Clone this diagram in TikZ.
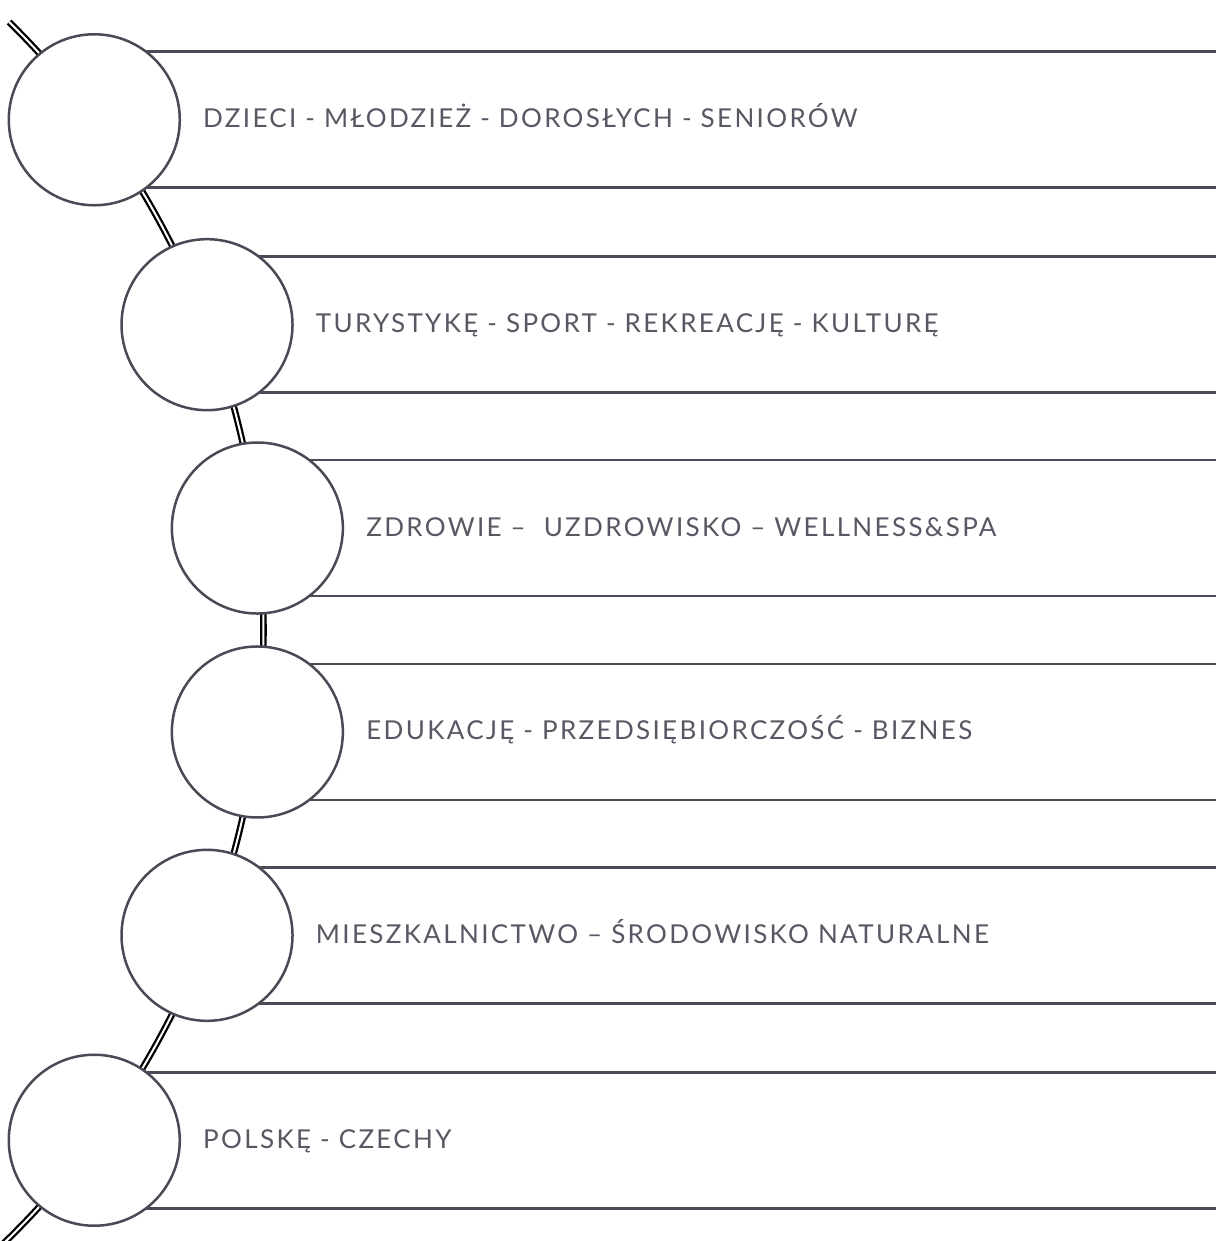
\documentclass[tikz,border=0pt]{standalone}
\usepackage{fontspec}
\setmainfont{Lato}
\usetikzlibrary{calc}
\definecolor{slate}{HTML}{4A4955}
\definecolor{ink}{HTML}{585763}
\tikzset{
    ring/.style={circle,draw=slate,line width=2.5pt,fill=white,minimum size=171pt,inner sep=0pt},
    band/.style={draw=slate,line width=2.8pt},
    rope/.style={draw=black,line width=2.3pt,double=white,double distance=2pt},
    caption/.style={text=ink,font=\fontsize{26}{30}\selectfont\addfontfeatures{LetterSpace=9},inner sep=0pt,anchor=base west}
}
\begin{document}
\begin{tikzpicture}[x=1pt,y=-1pt]
        \useasboundingbox(0,0)rectangle(1216,1241);
        \coordinate(hub)at(-590.5,630);
        \coordinate(edge)at(1216,0);
        \coordinate(ropetop)at($(hub)+(-45.4:854)$);
        \draw[rope](ropetop)arc[start angle=-45.4,end angle=46.3,radius=854];
        \foreach \n/\a/\txt in {1/-36.69/{DZIECI - MŁODZIEŻ - DOROSŁYCH - SENIORÓW},2/-20.95/{TURYSTYKĘ - SPORT - REKREACJĘ - KULTURĘ},3/-6.86/{ZDROWIE –~ UZDROWISKO – WELLNESS\&SPA},4/6.86/{EDUKACJĘ - PRZEDSIĘBIORCZOŚĆ - BIZNES},5/20.95/{MIESZKALNICTWO – ŚRODOWISKO NATURALNE},6/36.69/{POLSKĘ - CZECHY}}{
            \coordinate(o\n)at($(hub)+(\a:854)$);
            \path(o\n)++(0,-68)coordinate(u\n)++(0,136)coordinate(d\n);
            \draw[band](u\n)--(u\n-|edge);
            \draw[band](d\n)--(d\n-|edge);
            \node[ring](c\n)at(o\n){};
            \node[caption](t\n)at([xshift=22pt,yshift=-8pt]c\n.east){\txt};
        }
    \end{tikzpicture}
\end{document}
